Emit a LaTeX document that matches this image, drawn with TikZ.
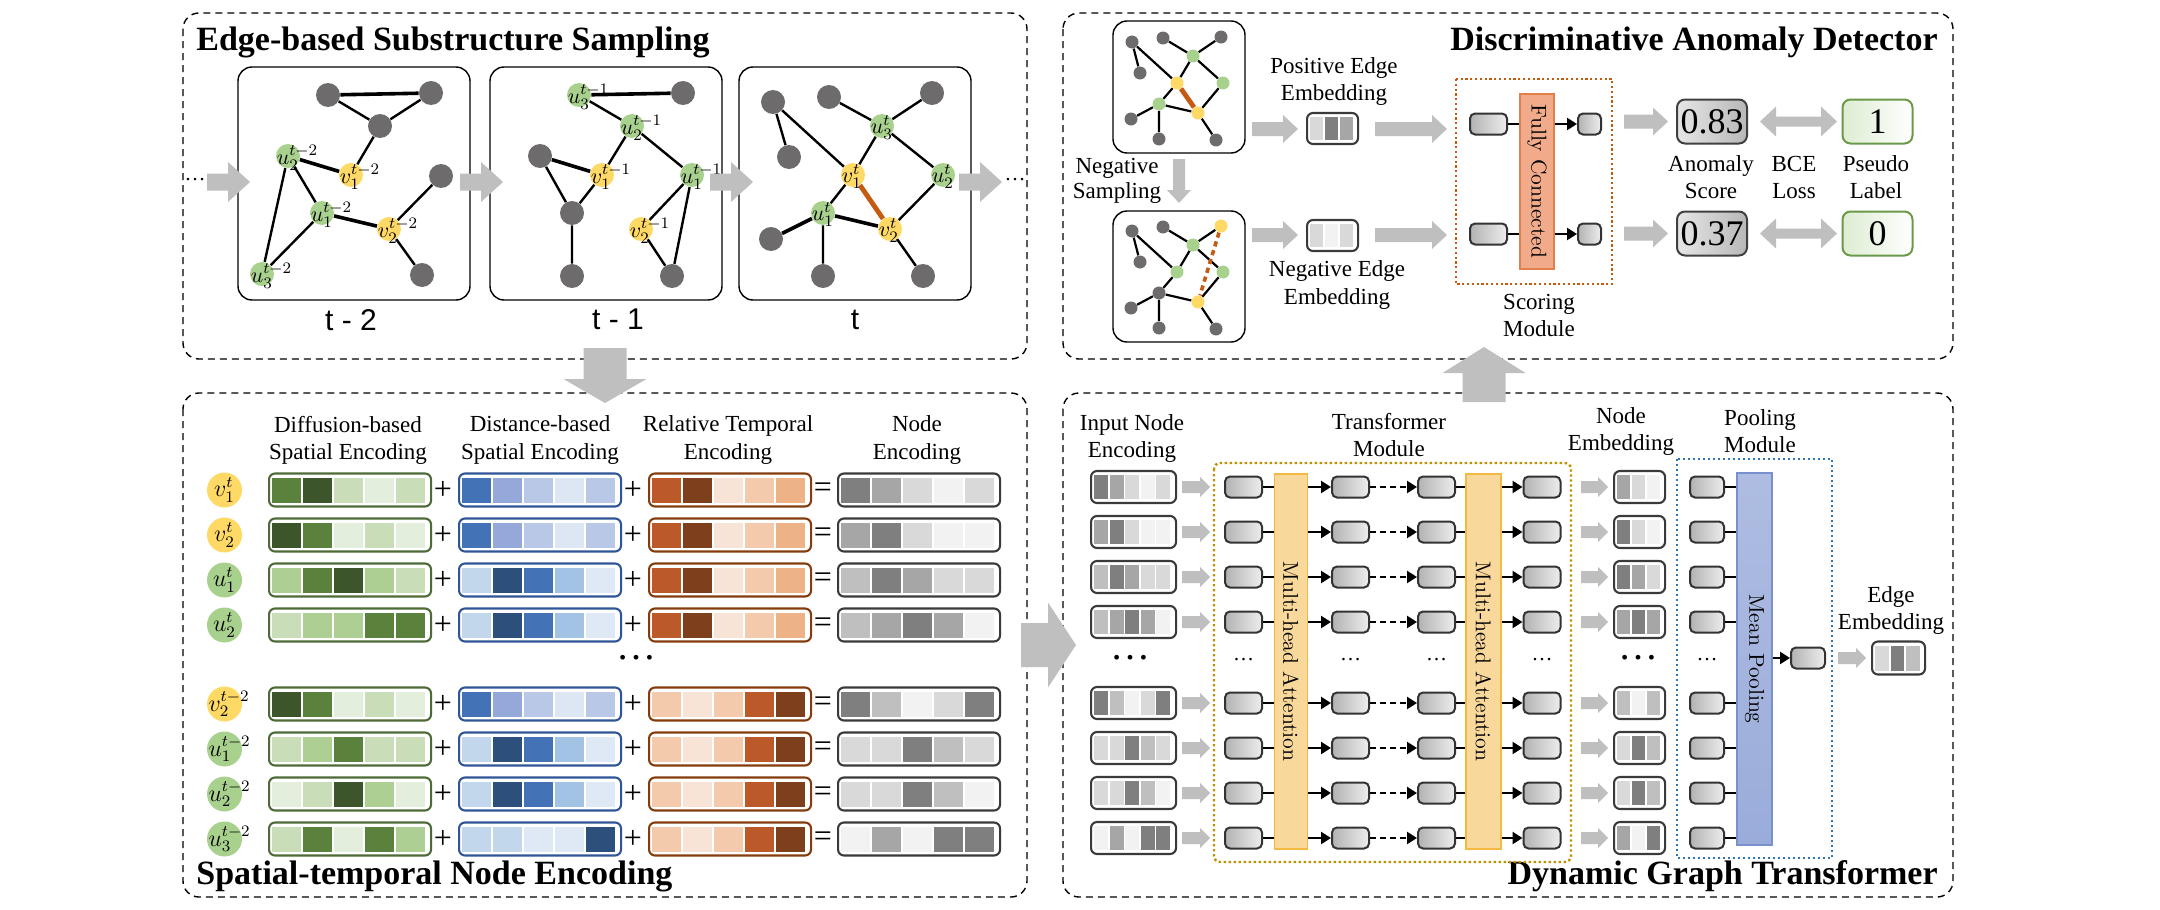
\documentclass[tikz,border=0pt]{standalone}
\usepackage{fontspec}
\setmainfont{Liberation Serif}
\newfontfamily\lmfont{Latin Modern Roman}
\newfontfamily\tfont{Liberation Sans}
\usetikzlibrary{arrows.meta,calc}

\definecolor{arrowgrey}{HTML}{BFBFBF}
\definecolor{nodegrey}{HTML}{6D6B6B}
\definecolor{nodegreen}{HTML}{A9D18E}
\definecolor{nodeyellow}{HTML}{FFD966}
\definecolor{edgeorange}{HTML}{C55A11}
\definecolor{G1}{HTML}{E3EEDC}
\definecolor{G2}{HTML}{C9DEB8}
\definecolor{G3}{HTML}{AECF94}
\definecolor{G4}{HTML}{5B823D}
\definecolor{G5}{HTML}{3D552A}
\definecolor{BV1}{HTML}{4373B6}
\definecolor{BV2}{HTML}{94A9DA}
\definecolor{BV3}{HTML}{B8C8E6}
\definecolor{BV4}{HTML}{DDE6F3}
\definecolor{BU1}{HTML}{C2D7EC}
\definecolor{BU2}{HTML}{2C4F7C}
\definecolor{BU4}{HTML}{A3C3E5}
\definecolor{BU5}{HTML}{DFE9F5}
\definecolor{O1}{HTML}{F8E4D6}
\definecolor{O2}{HTML}{F4CAAD}
\definecolor{O3}{HTML}{EEB287}
\definecolor{O4}{HTML}{BB5A28}
\definecolor{O5}{HTML}{7E3F1C}
\definecolor{K1}{HTML}{7F7F7F}
\definecolor{K2}{HTML}{A6A6A6}
\definecolor{K3}{HTML}{BFBFBF}
\definecolor{K4}{HTML}{D9D9D9}
\definecolor{K5}{HTML}{F2F2F2}
\definecolor{bargreen}{HTML}{4E6B37}
\definecolor{barblue}{HTML}{2F5597}
\definecolor{barorange}{HTML}{843C0C}
\definecolor{bargrey}{HTML}{3A3A3A}
\definecolor{goldline}{HTML}{BF9000}
\definecolor{poolblue}{HTML}{2E75B6}
\definecolor{mhfill}{HTML}{F9D89C}
\definecolor{mhline}{HTML}{F4B942}
\definecolor{mpfill}{HTML}{9AACDA}
\definecolor{mpline}{HTML}{7A90CE}
\definecolor{fcfill}{HTML}{F1AB8B}
\definecolor{fcline}{HTML}{E2804C}
\definecolor{lbline}{HTML}{6A9A48}
\definecolor{lbfill}{HTML}{DDEDD2}

% grey block arrow: tail centre (#1,#2), angle #3, length #4, shaft #5, head width #6, head length #7
\newcommand{\blk}[7]{%
  \fill[arrowgrey, shift={(#1,#2)}, rotate=#3]
    (0,{-#5/2}) -- ({#4-#7},{-#5/2}) -- ({#4-#7},{-#6/2}) -- (#4,0)
    -- ({#4-#7},{#6/2}) -- ({#4-#7},{#5/2}) -- (0,{#5/2}) -- cycle;}
% grey double-headed block arrow: left end (#1,#2), length #3, shaft #4, head width #5, head length #6
\newcommand{\dblk}[6]{%
  \fill[arrowgrey] (#1,#2) -- ({#1+#6},{#2-#5/2}) -- ({#1+#6},{#2-#4/2})
    -- ({#1+#3-#6},{#2-#4/2}) -- ({#1+#3-#6},{#2-#5/2}) -- ({#1+#3},#2)
    -- ({#1+#3-#6},{#2+#5/2}) -- ({#1+#3-#6},{#2+#4/2}) -- ({#1+#6},{#2+#4/2})
    -- ({#1+#6},{#2+#5/2}) -- cycle;}
% encoding vector: name, left x, y, border colour, width, height, cell width, cell pitch, cell colours
\newcommand{\encbar}[9]{%
  \node[encbar, draw=#4, minimum width=#5*0.5pt, minimum height=#6*0.5pt, anchor=west] (#1) at (#2,#3) {};
  \edef\encells{#9}%
  \foreach \clr [count=\i] in \encells
    \fill[fill=\clr] ($(#1.west)+({4+(\i-1)*#8},{-(#6-8)/2})$) rectangle ++(#7,{#6-8});
}
% one row of the spatial-temporal encoding table (four vectors with + and =)
\newcommand{\encrow}[6]{%
  \encbar{g#1}{268}{#2}{bargreen}{162}{33}{29}{31}{#3}
  \node[sign] at (443,#2) {+};
  \encbar{b#1}{458}{#2}{barblue}{162}{33}{29}{31}{#4}
  \node[sign] at (633,#2) {+};
  \encbar{o#1}{648}{#2}{barorange}{162}{33}{29}{31}{#5}
  \node[sign] at (823,#2) {=};
  \encbar{k#1}{837}{#2}{bargrey}{162}{33}{29}{31}{#6}
}

\begin{document}
\begin{tikzpicture}[x=0.5pt,y=-0.5pt,
  panel/.style={draw, line width=0.7pt, dash pattern=on 3.5pt off 2.5pt, rounded corners=8pt},
  gframe/.style={draw, line width=0.7pt, rounded corners=7pt, inner sep=0pt},
  vtx/.style={circle, inner sep=0pt, minimum size=12pt},
  kv/.style={vtx, fill=nodegrey}, gv/.style={vtx, fill=nodegreen}, yv/.style={vtx, fill=nodeyellow},
  svtx/.style={circle, inner sep=0pt, minimum size=6.5pt},
  svk/.style={svtx, fill=nodegrey}, svg/.style={svtx, fill=nodegreen}, svy/.style={svtx, fill=nodeyellow},
  glab/.style={anchor=west, xshift=-5.8pt, yshift=-0.8pt, inner sep=0pt, font=\fontsize{11}{11}\selectfont},
  ed/.style={line width=1.2pt}, edt/.style={line width=1.8pt},
  eds/.style={line width=1.1pt}, eor/.style={line width=2.4pt, draw=edgeorange},
  ttl/.style={inner sep=0pt, font=\bfseries\fontsize{17}{17}\selectfont},
  hdr/.style={align=center, inner sep=0pt, font=\fontsize{11.5}{13.5}\selectfont},
  tlab/.style={inner sep=0pt, font=\tfont\fontsize{15}{15}\selectfont},
  encbar/.style={rounded corners=3pt, line width=1.05pt, inner sep=0pt, fill=white},
  sign/.style={inner sep=0pt, font=\fontsize{16}{16}\selectfont},
  vcirc/.style={circle, fill=nodeyellow, inner sep=0pt, minimum size=17.5pt},
  ucirc/.style={circle, fill=nodegreen, inner sep=0pt, minimum size=17.5pt},
  rlab/.style={inner sep=0pt, font=\fontsize{12}{12}\selectfont},
  rlabw/.style={rlab, anchor=west, xshift=-8.2pt},
  sq/.style={draw=black!80, line width=1pt, rounded corners=2.5pt, inner sep=0pt,
    minimum width=18.5pt, minimum height=10.5pt, left color=black!30, right color=black!7},
  sqp/.style={sq, minimum width=17pt},
  ln/.style={line width=1.2pt},
  arr/.style={line width=1.2pt, -{Triangle[length=5pt,width=6pt]}},
  rot/.style={rotate=-90, inner sep=0pt, font=\lmfont\fontsize{10.7}{10.7}\selectfont},
  dots/.style={inner sep=0pt, font=\fontsize{20}{20}\selectfont},
  sdots/.style={inner sep=0pt, font=\fontsize{10.5}{10.5}\selectfont},
  scorebox/.style={draw=black!75, line width=1pt, rounded corners=4pt, inner sep=0pt,
    minimum width=35pt, minimum height=22pt, left color=black!10, right color=black!28,
    font=\fontsize{18}{18}\selectfont},
  labelbox/.style={draw=lbline, line width=1pt, rounded corners=4pt, inner sep=0pt,
    minimum width=35pt, minimum height=22pt, left color=lbfill, right color=white,
    font=\fontsize{18}{18}\selectfont}
]
\useasboundingbox (0,0) rectangle (2160,910);

% ---------------- panels ----------------
\draw[panel] (183,13) rectangle (1027,359);
\draw[panel] (1063,13) rectangle (1953,359);
\draw[panel] (183,393) rectangle (1027,897);
\draw[panel] (1063,393) rectangle (1953,897);

\node[ttl, anchor=base west] at (196,50) {Edge-based Substructure Sampling};
\node[ttl, anchor=base east] at (1938,50) {Discriminative Anomaly Detector};
\node[ttl, anchor=base west] at (196,884) {Spatial-temporal Node Encoding};
\node[ttl, anchor=base east] at (1938,884) {Dynamic Graph Transformer};

% ---------------- edge-based substructure sampling ----------------
\node[gframe, minimum width=116pt, minimum height=116.5pt] (f1) at (354,183.5) {};
\node[gframe, minimum width=116pt, minimum height=116.5pt] (f2) at (606,183.5) {};
\node[gframe, minimum width=116pt, minimum height=116.5pt] (f3) at (855,183.5) {};
\node[tlab] at ($(f1.south)+(-3,19)$) {t - 2};
\node[tlab] at ($(f2.south)+(12,19)$) {t - 1};
\node[tlab] at ($(f3.south)+(0,19)$) {t};

% snapshot t-2
\node[kv] (A1) at (328,95) {};
\node[kv] (B1) at (431,93) {};
\node[kv] (C1) at (380,126) {};
\node[gv] (U2a) at (288,156) {};
\node[yv] (V1a) at (351,175) {};
\node[kv] (D1) at (441,176) {};
\node[gv] (U1a) at (322,213) {};
\node[yv] (V2a) at (389,229) {};
\node[gv] (U3a) at (262,274) {};
\node[kv] (E1) at (422,275) {};
\draw[ed] (A1)--(C1) (B1)--(C1) (C1)--(V1a) (U2a)--(U1a) (U2a)--(U3a) (U1a)--(U3a) (V2a)--(D1) (V2a)--(E1);
\draw[edt] (A1)--(B1) (U2a)--(V1a) (U1a)--(V2a);
\node[glab] at (U2a) {$u_2^{t-2}$};
\node[glab] at (V1a) {$v_1^{t-2}$};
\node[glab] at (U1a) {$u_1^{t-2}$};
\node[glab] at (V2a) {$v_2^{t-2}$};
\node[glab] at (U3a) {$u_3^{t-2}$};

% snapshot t-1
\node[gv] (U3b) at (579,95) {};
\node[kv] (F2) at (683,93) {};
\node[gv] (U2b) at (632,126) {};
\node[kv] (G2) at (540,156) {};
\node[yv] (V1b) at (602,175) {};
\node[gv] (U1b) at (692,175) {};
\node[kv] (H2) at (572,213) {};
\node[yv] (V2b) at (641,229) {};
\node[kv] (I2) at (572,276) {};
\node[kv] (J2) at (672,276) {};
\draw[ed] (U3b)--(U2b) (U2b)--(V1b) (U2b)--(U1b) (G2)--(H2) (V1b)--(H2) (H2)--(I2) (U1b)--(V2b) (U1b)--(J2) (V2b)--(J2);
\draw[edt] (U3b)--(F2) (G2)--(V1b);
\node[glab] at (U3b) {$u_3^{t-1}$};
\node[glab] at (U2b) {$u_2^{t-1}$};
\node[glab] at (V1b) {$v_1^{t-1}$};
\node[glab] at (U1b) {$u_1^{t-1}$};
\node[glab] at (V2b) {$v_2^{t-1}$};

% snapshot t
\node[kv] (K3) at (773,102) {};
\node[kv] (L3) at (829,97) {};
\node[kv] (M3) at (932,93) {};
\node[kv] (N3) at (789,157) {};
\node[gv] (U3c) at (882,126) {};
\node[yv] (V1c) at (853,175) {};
\node[gv] (U2c) at (943,175) {};
\node[gv] (U1c) at (823,213) {};
\node[yv] (V2c) at (890,229) {};
\node[kv] (O3) at (771,239) {};
\node[kv] (P3) at (823,276) {};
\node[kv] (Q3) at (923,276) {};
\draw[ed] (K3)--(N3) (K3)--(V1c) (L3)--(U3c) (M3)--(U3c) (U3c)--(V1c) (U3c)--(U2c) (V1c)--(U1c) (U2c)--(V2c) (U1c)--(P3) (V2c)--(Q3);
\draw[edt] (U1c)--(V2c) (U1c)--(O3);
\draw[eor] (V1c)--(V2c);
\node[glab] at (U3c) {$u_3^{t}$};
\node[glab] at (V1c) {$v_1^{t}$};
\node[glab] at (U2c) {$u_2^{t}$};
\node[glab] at (U1c) {$u_1^{t}$};
\node[glab] at (V2c) {$v_2^{t}$};

% time flow
\node[sdots] at (195,180) {…};
\blk{207}{182}{0}{43}{17}{40}{22}
\blk{460}{182}{0}{43}{17}{40}{22}
\blk{710}{182}{0}{43}{17}{40}{22}
\blk{959}{182}{0}{43}{17}{40}{22}
\node[sdots] at (1015,180) {…};

% ---------------- discriminative anomaly detector ----------------
\node[gframe, minimum width=66pt, minimum height=66pt] (gp) at (1179,87) {};
\node[gframe, minimum width=66pt, minimum height=65.5pt] (gn) at (1179,276.5) {};

\node[svk] (p1) at (1132,42) {};
\node[svk] (p2) at (1163,38) {};
\node[svk] (p3) at (1221,37) {};
\node[svk] (p4) at (1140,73) {};
\node[svg] (pg1) at (1193,56) {};
\node[svy] (py1) at (1177,83) {};
\node[svg] (pg2) at (1223,83) {};
\node[svg] (pg3) at (1159,104) {};
\node[svy] (py2) at (1198,113) {};
\node[svk] (p5) at (1131,119) {};
\node[svk] (p6) at (1159,139) {};
\node[svk] (p7) at (1216,140) {};
\draw[eds] (p1)--(p4) (p1)--(py1) (p2)--(pg1) (p3)--(pg1) (pg1)--(py1) (pg1)--(pg2) (py1)--(pg3)
  (pg2)--(py2) (pg3)--(py2) (pg3)--(p5) (pg3)--(p6) (py2)--(p7);
\draw[eor] (py1)--(py2);

\node[svk] (n1) at (1132,231) {};
\node[svk] (n2) at (1163,227) {};
\node[svy] (n3) at (1221,226) {};
\node[svk] (n4) at (1140,262) {};
\node[svg] (ng1) at (1193,245) {};
\node[svg] (nq) at (1177,272) {};
\node[svg] (ng2) at (1223,272) {};
\node[svk] (nk) at (1159,293) {};
\node[svy] (ny2) at (1198,302) {};
\node[svk] (n5) at (1131,308) {};
\node[svk] (n6) at (1159,328) {};
\node[svk] (n7) at (1216,329) {};
\draw[eds] (n1)--(n4) (n1)--(nq) (n2)--(ng1) (n3)--(ng1) (ng1)--(nq) (ng1)--(ng2) (nq)--(nk)
  (ng2)--(ny2) (nk)--(ny2) (nk)--(n5) (nk)--(n6) (ny2)--(n7);
\draw[eor, line width=1.8pt, dash pattern=on 2.6pt off 2pt] (n3)--(ny2);

\node[hdr, font=\fontsize{11.5}{12.5}\selectfont] at (1117,180.5) {Negative\\Sampling};
\blk{1179}{159}{-90}{44}{12}{24}{13}

\node[hdr] at (1334,81.5) {Positive Edge\\Embedding};
\node[hdr] at (1337,285) {Negative Edge\\Embedding};
\encbar{pemb}{1306}{128.5}{bargrey}{51}{31}{13}{15}{K4,K1,K2}
\encbar{nemb}{1306}{235.5}{bargrey}{51}{31}{13}{15}{K4,K5,K4}
\blk{1252}{129}{0}{46}{14}{28}{15}
\blk{1375}{129}{0}{72}{14}{28}{15}
\blk{1252}{235}{0}{46}{14}{28}{15}
\blk{1375}{235}{0}{72}{14}{28}{15}

% scoring module
\draw[draw=edgeorange, line width=1.1pt, dash pattern=on 1.1pt off 1.3pt] (1456,79) rectangle (1612,284);
\node[draw=fcline, fill=fcfill, line width=0.6pt, inner sep=0pt, minimum width=17pt, minimum height=87.5pt] (fc) at (1537,181.5) {};
\node[rot] at (fc) {Fully Connected};
\node[sq] (sl1) at (1488.5,124) {};
\node[sq, minimum width=11.5pt] (sr1) at (1589.5,124) {};
\node[sq] (sl2) at (1488.5,234) {};
\node[sq, minimum width=11.5pt] (sr2) at (1589.5,234) {};
\draw[ln] (sl1.east) -- (sl1.east -| fc.west);
\draw[arr] (sr1.west -| fc.east) -- (sr1.west);
\draw[ln] (sl2.east) -- (sl2.east -| fc.west);
\draw[arr] (sr2.west -| fc.east) -- (sr2.west);
\node[hdr] at (1539,315) {Scoring\\Module};

\blk{1624}{121.5}{0}{44}{14}{28}{15}
\blk{1624}{233.5}{0}{44}{14}{28}{15}
\node[scorebox] (s1) at (1712,121.5) {0.83};
\node[scorebox] (s2) at (1712,233.5) {0.37};
\dblk{1760}{121.5}{77}{10}{30}{16}
\dblk{1760}{233.5}{77}{10}{30}{16}
\node[labelbox] (l1) at (1877.5,121.5) {1};
\node[labelbox] (l2) at (1877.5,233.5) {0};
\node[hdr] at (1711,177.5) {Anomaly\\Score};
\node[hdr] at (1794,177.5) {BCE\\Loss};
\node[hdr] at (1876,177.5) {Pseudo\\Label};

% ---------------- spatial-temporal node encoding ----------------
\node[hdr] at (348,440) {Diffusion-based\\Spatial Encoding};
\node[hdr] at (540,440) {Distance-based\\Spatial Encoding};
\node[hdr] at (728,440) {Relative Temporal\\Encoding};
\node[hdr] at (917,440) {Node\\Encoding};

\node[vcirc] (c1) at (224.5,490) {};
\node[vcirc] (c2) at (224.5,535) {};
\node[ucirc] (c3) at (224.5,580) {};
\node[ucirc] (c4) at (224.5,625) {};
\node[vcirc] (c5) at (224.5,704) {};
\node[ucirc] (c6) at (224.5,749) {};
\node[ucirc] (c7) at (224.5,794) {};
\node[ucirc] (c8) at (224.5,839) {};
\node[rlab] at (c1) {$v_1^t$};
\node[rlab] at (c2) {$v_2^t$};
\node[rlab] at (c3) {$u_1^t$};
\node[rlab] at (c4) {$u_2^t$};
\node[rlabw] at (c5) {$v_2^{t-2}$};
\node[rlabw] at (c6) {$u_1^{t-2}$};
\node[rlabw] at (c7) {$u_2^{t-2}$};
\node[rlabw] at (c8) {$u_3^{t-2}$};

\encrow{1}{490}{G4,G5,G2,G1,G2}{BV1,BV2,BV3,BV4,BV3}{O4,O5,O1,O2,O3}{K1,K2,K4,K5,K4}
\encrow{2}{535}{G5,G4,G1,G2,G1}{BV1,BV2,BV3,BV4,BV3}{O4,O5,O1,O2,O3}{K2,K1,K4,K5,K5}
\encrow{3}{580}{G3,G4,G5,G3,G2}{BU1,BU2,BV1,BU4,BU5}{O4,O5,O1,O2,O3}{K3,K1,K2,K4,K4}
\encrow{4}{625}{G2,G3,G3,G4,G4}{BU1,BU2,BV1,BU4,BU5}{O4,O5,O1,O2,O3}{K3,K2,K1,K2,K5}
\node[dots] at (636,658) {…};
\encrow{5}{704}{G5,G4,G1,G2,G1}{BV1,BV2,BV3,BV4,BV3}{O2,O1,O2,O4,O5}{K1,K3,K5,K4,K1}
\encrow{6}{749}{G2,G3,G4,G2,G2}{BU1,BU2,BV1,BU4,BU5}{O2,O1,O2,O4,O5}{K4,K4,K1,K3,K4}
\encrow{7}{794}{G1,G2,G5,G3,G1}{BU1,BU2,BV1,BU4,BU5}{O2,O1,O2,O4,O5}{K4,K4,K1,K3,K5}
\encrow{8}{839}{G2,G4,G1,G4,G3}{BU1,BU1,BU5,BU5,BU2}{O2,O1,O2,O4,O5}{K5,K2,K5,K1,K1}

% ---------------- dynamic graph transformer ----------------
\node[hdr] at (1132,438) {Input Node\\Encoding};
\node[hdr] at (1389,435) {Transformer\\Module};
\node[hdr] at (1621,431) {Node\\Embedding};
\node[hdr] at (1760,431) {Pooling\\Module};
\node[hdr] at (1891,610) {Edge\\Embedding};

\draw[draw=goldline, line width=1.2pt, dash pattern=on 1.2pt off 1.3pt, rounded corners=3pt] (1214,463) rectangle (1571,862);
\draw[draw=poolblue, line width=1.2pt, dash pattern=on 1.2pt off 1.3pt] (1677,459) rectangle (1832,858);

\node[draw=mhline, fill=mhfill, line width=0.6pt, inner sep=0pt, minimum width=16.5pt, minimum height=187.5pt] (mh1) at (1291,661.5) {};
\node[draw=mhline, fill=mhfill, line width=0.6pt, inner sep=0pt, minimum width=17.5pt, minimum height=187.5pt] (mh2) at (1483.5,661.5) {};
\node[rot] at (mh1) {Multi-head Attention};
\node[rot] at (mh2) {Multi-head Attention};
\node[draw=mpline, top color=mpfill!80, bottom color=mpfill, line width=0.6pt, inner sep=0pt, minimum width=17.5pt, minimum height=186pt] (mp) at (1754.5,659) {};
\node[rot] at (mp) {Mean Pooling};

\foreach \r/\y/\ic/\ec in {1/487/{K1,K2,K4,K5,K4}/{K2,K4,K5}, 2/532/{K2,K1,K4,K5,K5}/{K1,K4,K5},
    3/577/{K3,K1,K2,K4,K4}/{K1,K2,K4}, 4/622/{K3,K2,K1,K2,K5}/{K2,K1,K2},
    5/703/{K1,K3,K5,K4,K1}/{K3,K5,K3}, 6/748/{K4,K4,K1,K3,K4}/{K4,K1,K3},
    7/793/{K4,K4,K1,K3,K5}/{K4,K1,K3}, 8/838/{K5,K2,K5,K1,K1}/{K2,K5,K1}}{
  \encbar{in\r}{1090}{\y}{bargrey}{85}{32}{14.3}{15.5}{\ic}
  \blk{1182}{\y}{0}{28}{12}{20}{10}
  \node[sq] (a\r) at (1243.5,\y) {};
  \node[sq] (b\r) at (1350.5,\y) {};
  \node[sq] (c\r) at (1436.5,\y) {};
  \node[sq] (d\r) at (1542,\y) {};
  \draw[ln] (a\r.east) -- (a\r.east -| mh1.west);
  \draw[arr] (b\r.west -| mh1.east) -- (b\r.west);
  \draw[arr, dash pattern=on 3pt off 2pt] (b\r.east) -- (c\r.west);
  \draw[ln] (c\r.east) -- (c\r.east -| mh2.west);
  \draw[arr] (d\r.west -| mh2.east) -- (d\r.west);
  \blk{1581}{\y}{0}{27}{12}{20}{10}
  \encbar{ne\r}{1613}{\y}{bargrey}{51}{32}{13}{15}{\ec}
  \node[sqp] (p\r) at (1707,\y) {};
  \draw[ln] (p\r.east) -- (p\r.east -| mp.west);
}
\node[dots] at (1130,658) {…};
\node[sdots] at (1243.5,660) {…};
\node[sdots] at (1350.5,660) {…};
\node[sdots] at (1436.5,660) {…};
\node[sdots] at (1542,660) {…};
\node[dots] at (1638,658) {…};
\node[sdots] at (1707,660) {…};

\node[sqp] (po) at (1808,658) {};
\draw[arr] (po.west -| mp.east) -- (po.west);
\blk{1838}{658}{0}{28}{12}{20}{10}
\encbar{edge}{1871}{658}{bargrey}{53}{33}{13.5}{15.5}{K4,K1,K3}

% ---------------- flow between panels ----------------
\blk{605}{348}{-90}{55}{43}{83}{24}
\blk{1021}{645}{0}{55}{44}{85}{28}
\blk{1484}{402}{90}{55}{43}{83}{26}
\end{tikzpicture}
\end{document}
